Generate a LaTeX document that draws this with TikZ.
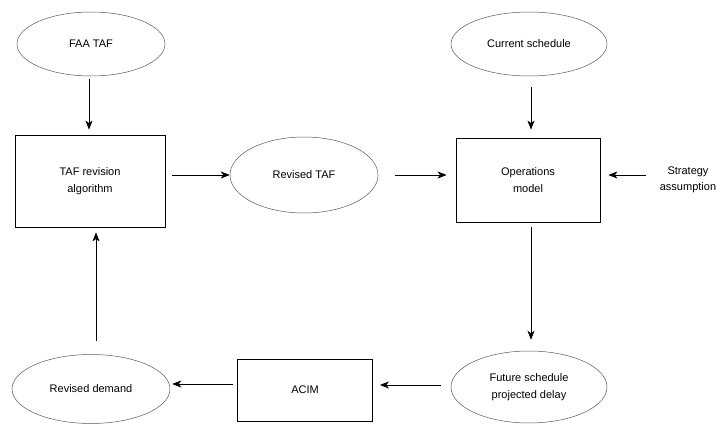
\documentclass[tikz,border=0pt]{standalone}
\usepackage{fontspec}
\setmainfont{Liberation Sans}
\usetikzlibrary{shapes.geometric,arrows.meta}

\begin{document}
\begin{tikzpicture}[x=1pt,y=-1pt,
    font=\fontsize{11}{16.5}\selectfont,
    proc/.style={draw, line width=0.8pt, rectangle, align=center, inner sep=0pt},
    store/.style={draw=black!65, line width=0.5pt, ellipse, align=center, inner sep=0pt},
    arr/.style={-{Stealth[length=9pt,width=7pt,inset=2.5pt]}, line width=0.7pt}]
    \useasboundingbox (0,0) rectangle (718,425);
    % inputs
    \node[store, minimum width=148pt, minimum height=64pt] (faa) at (91,44) {FAA TAF};
    \node[store, minimum width=156pt, minimum height=64pt] (cur) at (529,44) {Current schedule};
    \node[align=center, inner sep=0pt] (strat) at (688,180) {Strategy\\assumption};
    % middle row
    \node[proc, minimum width=150pt, minimum height=92pt] (taf) at (90,181) {TAF revision\\algorithm};
    \node[store, minimum width=148pt, minimum height=76pt] (rtaf) at (304,175) {Revised TAF};
    \node[proc, minimum width=144pt, minimum height=84pt] (ops) at (528,180) {Operations\\model};
    % bottom row
    \node[store, minimum width=158pt, minimum height=69pt] (rdem) at (91,389) {Revised demand};
    \node[proc, minimum width=135pt, minimum height=62pt] (acim) at (305,390) {ACIM};
    \node[store, minimum width=156pt, minimum height=72pt] (fut) at (529,387) {Future schedule\\projected delay};
    % flows
    \draw[arr, shorten <=3pt, shorten >=5pt] ([xshift=-2pt]faa.south) -- ([xshift=-1pt]taf.north);
    \draw[arr, shorten <=7pt] (taf.east |- rtaf) -- (rtaf.west);
    \draw[arr, shorten <=17pt, shorten >=9pt] (rtaf.east) -- (ops.west |- rtaf);
    \draw[arr, shorten <=11pt, shorten >=8pt] ([xshift=2pt]cur.south) -- ([xshift=3pt]ops.north);
    \draw[arr, shorten <=14pt, shorten >=8pt] (strat.west |- rtaf) -- (ops.east |- rtaf);
    \draw[arr, shorten <=5pt, shorten >=11pt] ([xshift=3pt]ops.south) -- ([xshift=2pt]fut.north);
    \draw[arr, shorten <=10pt, shorten >=7pt] (fut.west |- 0,385) -- (acim.east |- 0,385);
    \draw[arr, shorten <=4pt, shorten >=2pt] (acim.west |- 0,384) -- (rdem.east |- 0,384);
    \draw[arr, shorten <=13pt, shorten >=5pt] ([xshift=5pt]rdem.north) -- ([xshift=5pt]rdem.north |- taf.south);
\end{tikzpicture}
\end{document}
